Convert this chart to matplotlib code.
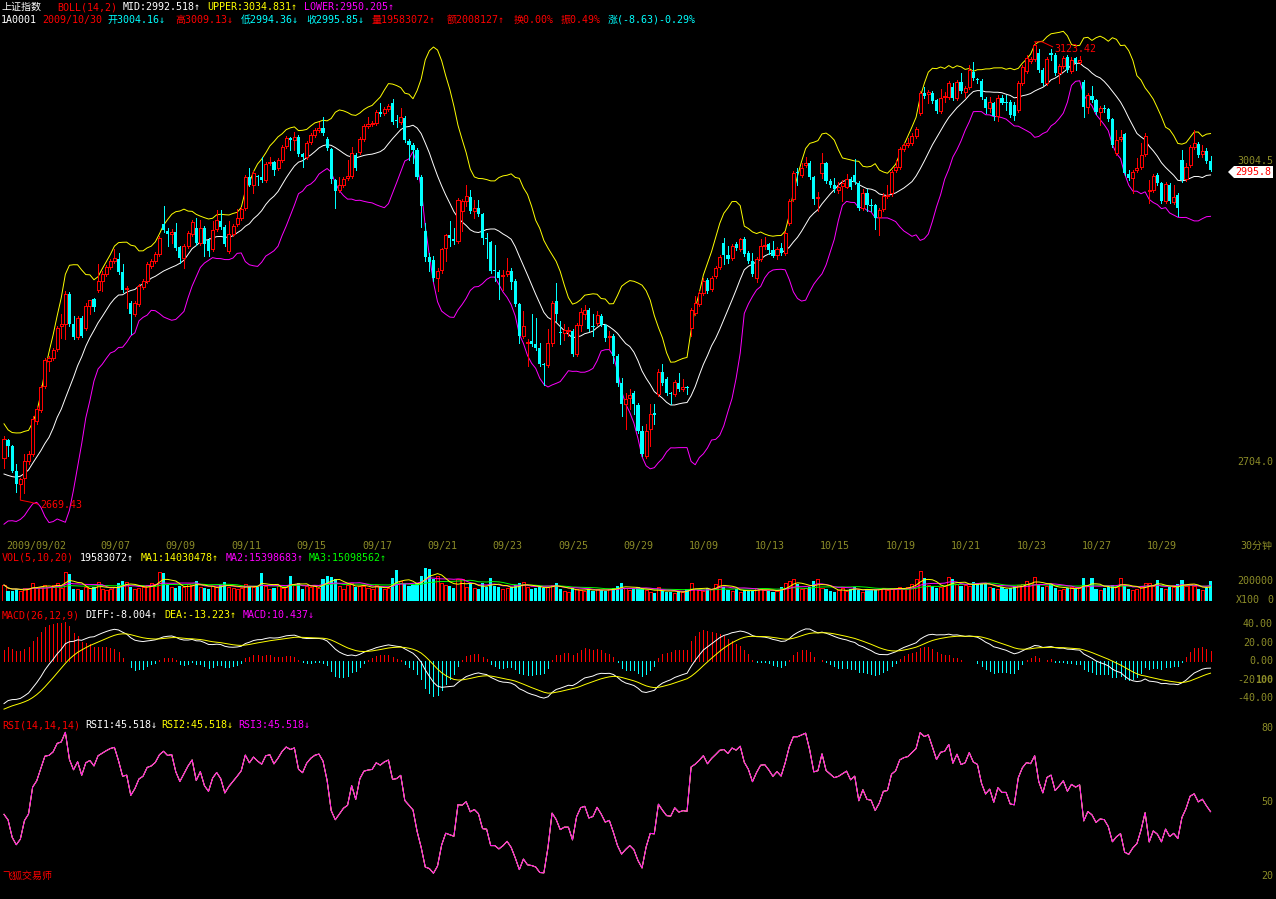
import numpy as np
import pandas as pd
import matplotlib
matplotlib.use("Agg")
import matplotlib.pyplot as plt
from matplotlib.patches import Polygon

plt.rcParams['font.family'] = ['DejaVu Sans Mono', 'Noto Sans CJK SC']

# ---------------- data (30-minute bars, 8 per trading day) ----------------
trade_days = ['2009/09/02', '09/03', '09/04', '09/07', '09/08', '09/09', '09/10', '09/11',
              '09/14', '09/15', '09/16', '09/17', '09/18', '09/21', '09/22', '09/23',
              '09/24', '09/25', '09/28', '09/29', '09/30', '10/09', '10/12', '10/13',
              '10/14', '10/15', '10/16', '10/19', '10/20', '10/21', '10/22', '10/23',
              '10/26', '10/27', '10/28', '10/29', '10/30']
label_days = [0] + list(range(3, 37, 2))

opens = [
    2708, 2726, 2720, 2695, 2682, 2688, 2705, 2712,
    2745, 2756, 2780, 2805, 2808, 2817, 2840, 2842,
    2872, 2842, 2829, 2848, 2838, 2860, 2867, 2876,
    2885, 2892, 2899, 2905, 2907, 2894, 2877, 2863,
    2852, 2862, 2879, 2885, 2900, 2905, 2912, 2942,
    2935, 2932, 2934, 2919, 2908, 2920, 2932, 2938,
    2923, 2938, 2926, 2917, 2937, 2945, 2939, 2915,
    2932, 2942, 2948, 2958, 2988, 2980, 2989, 2988,
    2985, 3002, 3003, 2997, 3005, 3019, 3027, 3025,
    3028, 3011, 3008, 3023, 3030, 3035, 3037, 3026,
    3016, 2985, 2975, 2980, 2987, 2989, 3010, 3013,
    3026, 3039, 3041, 3042, 3053, 3052, 3056, 3062,
    3045, 3043, 3047, 3024, 3020, 3015, 2988, 2935,
    2909, 2906, 2888, 2896, 2918, 2931, 2927, 2925,
    2955, 2965, 2969, 2955, 2958, 2952, 2928, 2924,
    2896, 2894, 2890, 2892, 2895, 2885, 2862, 2830,
    2823, 2825, 2822, 2818, 2802, 2801, 2823, 2865,
    2834, 2833, 2835, 2835, 2812, 2841, 2852, 2856,
    2840, 2843, 2850, 2841, 2829, 2830, 2810, 2783,
    2762, 2768, 2773, 2761, 2735, 2710, 2737, 2753,
    2772, 2794, 2787, 2773, 2772, 2783, 2777, 2779,
    2838, 2853, 2862, 2873, 2886, 2877, 2890, 2899,
    2923, 2911, 2908, 2922, 2917, 2927, 2913, 2905,
    2888, 2907, 2920, 2922, 2916, 2911, 2918, 2913,
    2943, 2967, 2993, 2990, 3000, 3002, 2988, 2968,
    2992, 3002, 2984, 2980, 2975, 2979, 2978, 2986,
    2990, 2982, 2958, 2972, 2961, 2961, 2949, 2957,
    2970, 2972, 2995, 2998, 3016, 3020, 3022, 3029,
    3052, 3072, 3071, 3072, 3065, 3054, 3068, 3068,
    3078, 3067, 3083, 3073, 3078, 3093, 3086, 3084,
    3066, 3057, 3062, 3049, 3067, 3063, 3063, 3060,
    3055, 3082, 3094, 3104, 3106, 3112, 3095, 3082,
    3112, 3110, 3092, 3099, 3108, 3094, 3107, 3103,
    3083, 3058, 3069, 3065, 3053, 3057, 3056, 3046,
    3012, 3026, 3031, 2991, 2987, 2995, 2998, 3011,
    2974, 2975, 2990, 2982, 2965, 2980, 2964, 2971,
    3005, 2986, 3000, 3018, 3021, 3011, 3014, 3004.16,
]
highs = [
    2730, 2727, 2721, 2702, 2688, 2712, 2715, 2750,
    2760, 2781, 2808, 2810, 2818, 2840, 2852, 2875,
    2874, 2850, 2850, 2850, 2863, 2866, 2868, 2902,
    2895, 2901, 2907, 2917, 2913, 2902, 2880, 2865,
    2865, 2882, 2887, 2904, 2907, 2914, 2930, 2960,
    2938, 2937, 2943, 2920, 2922, 2935, 2946, 2948,
    2946, 2940, 2928, 2945, 2956, 2956, 2941, 2945,
    2942, 2957, 2959, 2990, 2997, 2994, 2990, 3008,
    3003, 3008, 3004, 3007, 3020, 3029, 3028, 3033,
    3030, 3012, 3024, 3032, 3037, 3043, 3048, 3028,
    3017, 2986, 2988, 2988, 3005, 3018, 3012, 3028,
    3041, 3048, 3044, 3055, 3062, 3058, 3061, 3066,
    3050, 3057, 3049, 3026, 3022, 3017, 2990, 2943,
    2913, 2910, 2898, 2918, 2932, 2945, 2938, 2968,
    2967, 2980, 2975, 2966, 2966, 2953, 2933, 2925,
    2921, 2896, 2896, 2908, 2898, 2887, 2863, 2855,
    2827, 2852, 2848, 2823, 2803, 2837, 2865, 2883,
    2845, 2842, 2839, 2837, 2843, 2858, 2861, 2858,
    2852, 2855, 2852, 2842, 2835, 2832, 2812, 2788,
    2773, 2777, 2775, 2763, 2740, 2742, 2762, 2762,
    2797, 2802, 2789, 2774, 2786, 2793, 2787, 2780,
    2858, 2870, 2875, 2888, 2888, 2890, 2900, 2911,
    2928, 2920, 2922, 2924, 2928, 2929, 2915, 2913,
    2909, 2927, 2929, 2923, 2925, 2919, 2923, 2935,
    2967, 2994, 2997, 3002, 3008, 3004, 2989, 2973,
    3012, 3003, 2986, 2987, 2983, 2985, 2991, 2988,
    3006, 2984, 2976, 2976, 2967, 2962, 2958, 2972,
    2980, 2995, 3005, 3018, 3022, 3027, 3032, 3038,
    3074, 3078, 3075, 3074, 3066, 3076, 3073, 3084,
    3082, 3085, 3092, 3079, 3100, 3103, 3087, 3086,
    3068, 3068, 3063, 3070, 3070, 3070, 3065, 3063,
    3084, 3100, 3110, 3108, 3123.42, 3116, 3097, 3108,
    3116, 3112, 3101, 3109, 3110, 3108, 3108, 3109,
    3085, 3072, 3079, 3066, 3059, 3060, 3057, 3047,
    3035, 3035, 3032, 2995, 2995, 3007, 3022, 3032,
    2985, 2991, 2992, 2983, 2983, 2982, 2980, 2972,
    3015, 3002, 3020, 3035, 3023, 3020, 3017, 3009.13,
]
lows = [
    2698, 2710, 2694, 2674, 2669.43, 2673, 2702, 2710,
    2742, 2754, 2778, 2795, 2806, 2815, 2828, 2827,
    2840, 2827, 2827, 2829, 2836, 2852, 2855, 2874,
    2875, 2890, 2897, 2903, 2892, 2874, 2858, 2832,
    2850, 2860, 2877, 2883, 2898, 2903, 2910, 2934,
    2920, 2923, 2916, 2903, 2898, 2918, 2930, 2921,
    2921, 2910, 2910, 2915, 2935, 2937, 2920, 2913,
    2930, 2940, 2946, 2956, 2979, 2972, 2980, 2983,
    2983, 3000, 2990, 2995, 3003, 3017, 3015, 3015,
    3009, 2998, 3006, 3021, 3028, 3033, 3030, 3015,
    2982, 2958, 2973, 2978, 2985, 2987, 2995, 3011,
    3024, 3037, 3039, 3040, 3049, 3050, 3054, 3041,
    3038, 3041, 3023, 3005, 3002, 2986, 2939, 2905,
    2895, 2885, 2875, 2893, 2905, 2920, 2922, 2923,
    2935, 2960, 2953, 2948, 2950, 2922, 2908, 2893,
    2885, 2867, 2876, 2890, 2877, 2860, 2823, 2828,
    2800, 2820, 2816, 2800, 2781, 2799, 2820, 2845,
    2822, 2826, 2830, 2810, 2810, 2835, 2847, 2835,
    2830, 2841, 2840, 2825, 2818, 2803, 2780, 2750,
    2737, 2757, 2752, 2733, 2710, 2708, 2720, 2742,
    2770, 2781, 2771, 2762, 2770, 2775, 2775, 2772,
    2830, 2851, 2860, 2871, 2873, 2875, 2888, 2897,
    2902, 2903, 2906, 2916, 2915, 2910, 2903, 2890,
    2884, 2905, 2917, 2912, 2909, 2907, 2911, 2911,
    2941, 2965, 2980, 2988, 2998, 2986, 2962, 2955,
    2987, 2982, 2978, 2973, 2972, 2965, 2977, 2976,
    2981, 2956, 2956, 2955, 2955, 2937, 2931, 2955,
    2968, 2970, 2993, 2996, 3014, 3018, 3020, 3027,
    3050, 3067, 3062, 3062, 3052, 3052, 3063, 3066,
    3065, 3065, 3072, 3068, 3076, 3085, 3082, 3066,
    3052, 3053, 3045, 3044, 3061, 3055, 3048, 3045,
    3053, 3080, 3092, 3102, 3104, 3093, 3080, 3080,
    3105, 3090, 3082, 3097, 3093, 3092, 3095, 3101,
    3048, 3052, 3063, 3051, 3040, 3053, 3044, 3018,
    3010, 3024, 2990, 2985, 2972, 2993, 2996, 3009,
    2963, 2973, 2980, 2963, 2963, 2963, 2962, 2950,
    2983, 2984, 2998, 3016, 3008, 3008, 3002, 2994.36,
]
closes = [
    2727, 2720, 2695, 2682, 2687, 2705, 2712, 2747,
    2757, 2779, 2806, 2808, 2816, 2838, 2842, 2872,
    2842, 2829, 2848, 2830, 2860, 2866, 2859, 2885,
    2892, 2899, 2905, 2908, 2894, 2876, 2878, 2852,
    2863, 2880, 2885, 2902, 2905, 2912, 2928, 2936,
    2932, 2934, 2918, 2908, 2920, 2933, 2944, 2923,
    2938, 2922, 2915, 2936, 2946, 2939, 2922, 2932,
    2940, 2948, 2957, 2988, 2980, 2992, 2988, 2985,
    3001, 3003, 2995, 3005, 3018, 3027, 3025, 3028,
    3011, 3008, 3022, 3030, 3035, 3037, 3032, 3017,
    2986, 2974, 2980, 2986, 2989, 3012, 2997, 3026,
    3039, 3041, 3042, 3053, 3051, 3056, 3059, 3043,
    3044, 3048, 3025, 3020, 3015, 2988, 2960, 2909,
    2904, 2888, 2895, 2917, 2931, 2928, 2925, 2966,
    2965, 2970, 2955, 2958, 2952, 2928, 2927, 2895,
    2895, 2888, 2891, 2895, 2884, 2862, 2830, 2840,
    2824, 2822, 2818, 2802, 2801, 2823, 2863, 2852,
    2833, 2836, 2836, 2812, 2841, 2854, 2856, 2837,
    2839, 2851, 2841, 2828, 2830, 2810, 2783, 2762,
    2767, 2771, 2762, 2735, 2712, 2735, 2752, 2751,
    2794, 2783, 2773, 2772, 2784, 2777, 2779, 2778,
    2856, 2863, 2873, 2885, 2875, 2888, 2898, 2909,
    2911, 2907, 2920, 2918, 2927, 2912, 2905, 2892,
    2907, 2920, 2921, 2916, 2910, 2917, 2913, 2933,
    2965, 2992, 2992, 2997, 3002, 2988, 2967, 2969,
    3002, 2984, 2980, 2976, 2978, 2982, 2986, 2978,
    2983, 2958, 2972, 2961, 2960, 2948, 2956, 2970,
    2971, 2993, 2998, 3016, 3020, 3022, 3029, 3036,
    3072, 3069, 3073, 3064, 3054, 3067, 3069, 3082,
    3067, 3083, 3074, 3077, 3095, 3087, 3085, 3068,
    3057, 3063, 3049, 3067, 3062, 3062, 3050, 3049,
    3082, 3098, 3107, 3106, 3120, 3095, 3082, 3106,
    3110, 3092, 3099, 3107, 3095, 3105, 3102, 3105,
    3058, 3070, 3065, 3053, 3057, 3056, 3046, 3020,
    3025, 3028, 2992, 2987, 2993, 2997, 3010, 3029,
    2975, 2989, 2982, 2965, 2981, 2965, 2969, 2958,
    2985, 2998, 3018, 3022, 3010, 3014, 3004.48, 2995.85,
]
# volume in millions of shares
volumes_m = [
    16, 10, 10, 12, 10, 13, 13, 18,
    13, 14, 16, 14, 16, 18, 13, 29,
    27, 12, 12, 11, 14, 13, 14, 19,
    12, 11, 12, 14, 18, 20, 19, 14,
    12, 13, 14, 16, 18, 17, 29, 28,
    16, 14, 13, 15, 14, 17, 16, 20,
    14, 13, 12, 15, 14, 16, 19, 14,
    13, 12, 13, 17, 15, 14, 14, 28,
    15, 12, 13, 15, 13, 14, 25, 16,
    18, 12, 15, 14, 15, 13, 22, 25,
    24, 22, 15, 12, 16, 18, 14, 15,
    15, 13, 12, 16, 14, 12, 13, 23,
    31, 20, 17, 15, 16, 18, 25, 33,
    32, 22, 25, 18, 16, 15, 13, 22,
    22, 14, 17, 13, 12, 18, 14, 23,
    15, 14, 12, 13, 14, 16, 18, 19,
    14, 12, 13, 15, 13, 14, 16, 18,
    12, 10, 9, 13, 12, 11, 10, 12,
    10, 12, 11, 10, 12, 13, 15, 18,
    13, 11, 12, 14, 12, 11, 9, 8,
    14, 10, 9, 9, 8, 10, 9, 12,
    18, 12, 11, 10, 13, 12, 17, 22,
    14, 11, 10, 12, 9, 11, 10, 10,
    13, 12, 11, 10, 9, 10, 14, 18,
    20, 22, 17, 12, 13, 14, 20, 22,
    13, 12, 10, 9, 11, 13, 10, 12,
    14, 11, 9, 12, 11, 12, 12, 13,
    11, 12, 13, 14, 12, 14, 17, 22,
    30, 23, 16, 15, 13, 14, 15, 24,
    22, 17, 15, 16, 15, 19, 18, 17,
    17, 14, 13, 12, 14, 12, 13, 15,
    16, 17, 20, 18, 24, 16, 14, 15,
    17, 13, 11, 12, 13, 14, 12, 13,
    23, 15, 23, 12, 11, 13, 14, 16,
    14, 23, 15, 12, 11, 12, 14, 18,
    18, 15, 21, 13, 12, 14, 14, 17,
    21, 15, 16.8, 15, 12, 11, 12.6, 19.583072,
]
# closes of the last bars before the chart (for the 14-bar bands)
pre_closes = [2740, 2712, 2690, 2672, 2668, 2662, 2655, 2670, 2690, 2705, 2722, 2690, 2685]
# indicator states carried in from before the first bar
ema12_start, ema26_start, dea_start = 2722.0, 2768.0, -52.0
rsi_up_start, rsi_abs_start = 4.5, 10.0

# ---------------- indicators ----------------
O = np.array(opens, float); Hh = np.array(highs, float)
L = np.array(lows, float); C = np.array(closes, float)
V = np.array(volumes_m, float)
N = len(C)
x = np.arange(N)

allc = pd.Series(pre_closes + closes, dtype=float)
mid = allc.rolling(14).mean().values[-N:]
sd = allc.rolling(14).std(ddof=0).values[-N:]
upper = mid + 2 * sd
lower = mid - 2 * sd

e12 = np.empty(N); e26 = np.empty(N); dea = np.empty(N)
e12[0], e26[0] = ema12_start, ema26_start
dea[0] = dea_start
for k in range(1, N):
    e12[k] = (2 * C[k] + 11 * e12[k - 1]) / 13
    e26[k] = (2 * C[k] + 25 * e26[k - 1]) / 27
diff = e12 - e26
for k in range(1, N):
    dea[k] = (2 * diff[k] + 8 * dea[k - 1]) / 10
macd = 2 * (diff - dea)

rsi = np.empty(N)
up, ab = rsi_up_start, rsi_abs_start
rsi[0] = 100 * up / ab
for k in range(1, N):
    d = C[k] - C[k - 1]
    up = (max(d, 0) + 13 * up) / 14
    ab = (abs(d) + 13 * ab) / 14
    rsi[k] = 100 * up / ab

vs = pd.Series(V)
vma5 = vs.rolling(5, min_periods=1).mean().values
vma10 = vs.rolling(10, min_periods=1).mean().values
vma20 = vs.rolling(20, min_periods=1).mean().values

# ---------------- figure ----------------
W, H = 1276, 899
RED, CYAN, YEL, MAG, GRN, WHT = '#FF0000', '#00FFFF', '#FFFF00', '#FF00FF', '#00FF00', '#FFFFFF'
OLIVE = '#8C8C28'
fig = plt.figure(figsize=(W / 100, H / 100), dpi=100, facecolor='black')

XL = (-4 / 4.09, (1222 - 4) / 4.09)


def px_axes(x0, y0, x1, y1):
    ax = fig.add_axes([x0 / W, 1 - y1 / H, (x1 - x0) / W, (y1 - y0) / H])
    ax.set_facecolor('black')
    ax.axis('off')
    ax.set_xlim(*XL)
    return ax


def ftext(xp, yp, s, color, ha='left', size=7.2, **kw):
    fig.text(xp / W, 1 - yp / H, s, color=color, ha=ha, va='center', fontsize=size, **kw)


upm = C >= O
LW = 0.7

# price panel
axp = px_axes(0, 25, 1222, 532)
axp.set_ylim(2634.1, 3140.2)
wick_col = np.where(upm, RED, CYAN)
axp.vlines(x, L, Hh, colors=wick_col, linewidth=LW, antialiased=False, zorder=2)
bb = np.minimum(O, C)
bh = np.maximum(np.abs(C - O), 0.8)
axp.bar(x[upm], bh[upm], bottom=bb[upm], width=0.74, facecolor='black', edgecolor=RED,
        linewidth=LW, antialiased=False, zorder=3)
axp.bar(x[~upm], bh[~upm], bottom=bb[~upm], width=0.78, color=CYAN, linewidth=0,
        antialiased=False, zorder=3)
axp.plot(x, mid, color=WHT, lw=LW, zorder=1)
axp.plot(x, upper, color=YEL, lw=LW, zorder=1)
axp.plot(x, lower, color=MAG, lw=LW, zorder=1)

# extreme markers
ih = int(np.argmax(Hh)); il = int(np.argmin(L))
axp.plot([ih, ih + 1.8, ih + 4.4], [Hh[ih], Hh[ih], Hh[ih] - 5], color=RED, lw=LW)
axp.text(ih + 4.9, Hh[ih] - 7, f'{Hh[ih]:.2f}', color=RED, fontsize=7.2, va='center', ha='left')
axp.plot([il, il, il + 2.4, il + 4.3], [L[il], L[il] - 3.5, L[il] - 5.5, L[il] - 7.5], color=RED, lw=LW)
axp.text(il + 4.8, L[il] - 8.5, f'{L[il]:.2f}', color=RED, fontsize=7.2, va='center', ha='left')

# volume panel
axv = px_axes(0, 563, 1222, 601)
axv.set_ylim(0, 38)
axv.bar(x[upm], V[upm], width=0.74, facecolor='black', edgecolor=RED, linewidth=LW,
        antialiased=False, zorder=2)
axv.bar(x[~upm], V[~upm], width=0.78, color=CYAN, linewidth=0, antialiased=False, zorder=2)
axv.plot(x, vma20, color=GRN, lw=LW, zorder=3)
axv.plot(x, vma10, color=MAG, lw=LW, zorder=3)
axv.plot(x, vma5, color=YEL, lw=LW, zorder=3)

# MACD panel
axm = px_axes(0, 622, 1222, 712)
axm.set_ylim(-55.1, 42.2)
axm.vlines(x, 0, macd, colors=np.where(macd >= 0, RED, CYAN), linewidth=LW, antialiased=False)
axm.plot(x, diff, color=WHT, lw=LW)
axm.plot(x, dea, color=YEL, lw=LW)

# RSI panel
axr = px_axes(0, 730, 1222, 895)
axr.set_ylim(12.3, 79.19)
axr.plot(x, rsi, color=WHT, lw=LW)
axr.plot(x, rsi, color=YEL, lw=LW)
axr.plot(x, rsi, color=MAG, lw=LW)

# ---------------- texts ----------------
# header line 1
ftext(2, 7, '上证指数', WHT)
ftext(57, 7, 'BOLL(14,2)', RED)
ftext(123, 7, 'MID:2992.518↑', WHT)
ftext(207, 7, 'UPPER:3034.831↑', YEL)
ftext(304, 7, 'LOWER:2950.205↑', MAG)
# header line 2
ftext(1, 20, '1A0001', WHT)
ftext(42, 20, '2009/10/30', RED)
ftext(108, 20, '开3004.16↓', CYAN)
ftext(175, 20, '高3009.13↓', RED)
ftext(241, 20, '低2994.36↓', CYAN)
ftext(306, 20, '收2995.85↓', CYAN)
ftext(371, 20, '量19583072↑', RED)
ftext(447, 20, '额2008127↑', RED)
ftext(514, 20, '换0.00%', RED)
ftext(561, 20, '振0.49%', RED)
ftext(608, 20, '涨(-8.63)-0.29%', CYAN)

# date labels
for d in label_days:
    xp = 4 + 4.09 * (d * 8) + (2 if d == 0 else -2)
    ftext(xp, 546, trade_days[d], OLIVE)
ftext(1272, 546, '30分钟', OLIVE, ha='right')

# panel headers
ftext(2, 558, 'VOL(5,10,20)', RED)
ftext(80, 558, '19583072↑', WHT)
ftext(141, 558, 'MA1:14030478↑', YEL)
ftext(226, 558, 'MA2:15398683↑', MAG)
ftext(309, 558, 'MA3:15098562↑', GRN)

ftext(2, 615, 'MACD(26,12,9)', RED)
ftext(85, 615, 'DIFF:-8.004↑', WHT)
ftext(164, 615, 'DEA:-13.223↑', YEL)
ftext(243, 615, 'MACD:10.437↓', MAG)

ftext(2, 725, 'RSI(14,14,14)', RED)
ftext(85, 725, 'RSI1:45.518↓', WHT)
ftext(161, 725, 'RSI2:45.518↓', YEL)
ftext(238, 725, 'RSI3:45.518↓', MAG)

ftext(2, 876, '飞狐交易师', RED)

# right axis labels
for yy, s in [(161, '3004.5'), (462, '2704.0'), (581, '200000'),
              (624, '40.00'), (643, '20.00'), (661, '0.00'),
              (698, '-40.00'), (728, '80'), (802, '50'), (876, '20')]:
    ftext(1273, yy, s, OLIVE, ha='right')
ftext(1255, 680, '-20', OLIVE, ha='right')
ftext(1255, 680, '100', OLIVE, ha='left', fontweight='bold')
ftext(1236, 600, 'X100', OLIVE)
ftext(1273, 600, '0', OLIVE, ha='right')

# last price tag
tag = Polygon([(1228 / W, 1 - 172 / H), (1234 / W, 1 - 166 / H), (1273 / W, 1 - 166 / H),
               (1273 / W, 1 - 178 / H), (1234 / W, 1 - 178 / H)], closed=True,
              transform=fig.transFigure, facecolor='white', edgecolor='none')
fig.patches.append(tag)
ftext(1253, 172, f'{C[-1]:.1f}', RED, ha='center')

fig.savefig('out.png', dpi=100, facecolor='black')
